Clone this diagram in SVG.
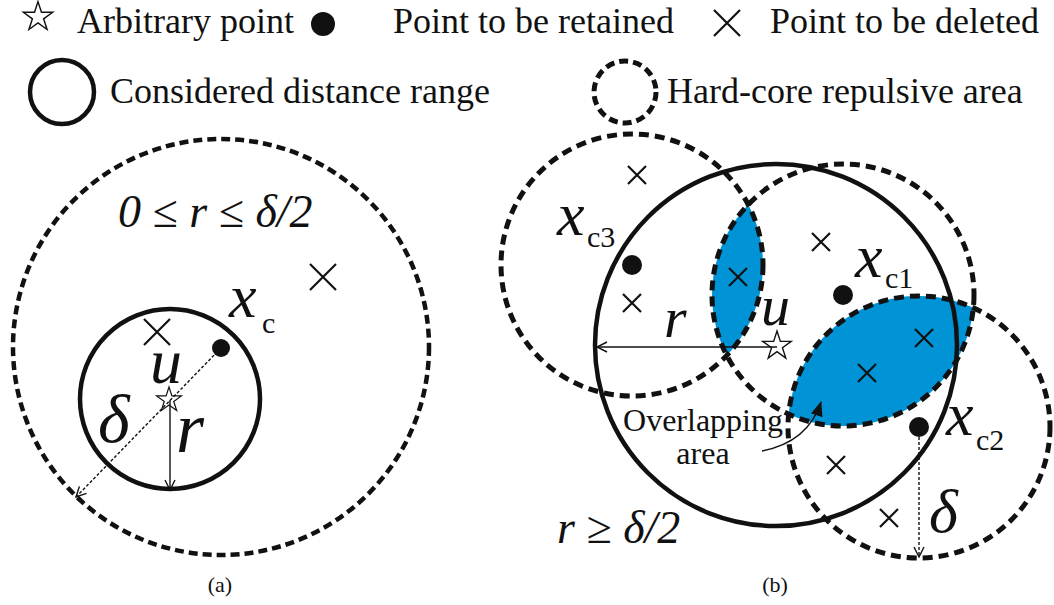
<svg xmlns="http://www.w3.org/2000/svg" width="1054" height="605" viewBox="0 0 1054 605">
<style>
text{font-family:"Liberation Serif","Times New Roman",serif;fill:#111}
.lg{font-size:36px}
.it{font-style:italic}
.sub{font-size:30px}
.solid{fill:none;stroke:#111;stroke-width:4.5}
.dash{fill:none;stroke:#111;stroke-width:5;stroke-dasharray:10 6}
.dashA{fill:none;stroke:#111;stroke-width:4.5;stroke-dasharray:9 5}
.lens{fill:#0093d6;stroke:none}
.xm{fill:none;stroke:#111;stroke-width:2.2}
.dot{fill:#111}
.star{fill:#fff;stroke:#111;stroke-width:1.3}
.thin{fill:none;stroke:#111;stroke-width:1.4}
.thindash{fill:none;stroke:#111;stroke-width:1.4;stroke-dasharray:3 2}
</style>
<defs>
<polygon id="star" class="star" points="0,-14 3.14,-4.33 13.32,-4.33 5.09,1.65 8.23,11.33 0,5.35 -8.23,11.33 -5.09,1.65 -13.32,-4.33 -3.14,-4.33"/>
<marker id="openArr" markerUnits="userSpaceOnUse" markerWidth="14" markerHeight="14" refX="11" refY="6" orient="auto">
<path d="M1,1 L11,6 L1,11" fill="none" stroke="#111" stroke-width="1.4"/>
</marker>
<marker id="fillArr" markerUnits="userSpaceOnUse" markerWidth="16" markerHeight="12" refX="14" refY="6" orient="auto">
<path d="M0,0 L15,6 L0,12 Z" fill="#111"/>
</marker>
</defs>

<g id="legend">
<g id="legend-star"><use href="#star" transform="translate(38,17) scale(1.1)"/><text class="lg" x="77" y="33">Arbitrary point</text></g>
<g id="legend-dot"><circle class="dot" cx="323" cy="24" r="12"/><text class="lg" x="393" y="33">Point to be retained</text></g>
<g id="legend-x"><path class="xm" d="M714,10 L740,36 M714,36 L740,10"/><text class="lg" x="770" y="33">Point to be deleted</text></g>
<g id="legend-range"><circle class="solid" cx="62" cy="92" r="32" stroke-width="5"/><text class="lg" x="110" y="103">Considered distance range</text></g>
<g id="legend-hardcore"><circle cx="625" cy="92" r="31" fill="none" stroke="#111" stroke-width="5" stroke-dasharray="9 5"/><text class="lg" x="667" y="103">Hard-core repulsive area</text></g>
</g>

<g id="panel-a">
<g id="a-hardcore"><circle class="dashA" cx="221" cy="347" r="208"/></g>
<g id="a-range"><circle class="solid" cx="170" cy="399" r="90"/></g>
<g id="a-xc"><circle class="dot" cx="221" cy="348" r="9"/>
<text class="it" x="229" y="317" font-size="62">x</text><text class="sub" x="262" y="333">c</text></g>
<g id="a-u"><use href="#star" transform="translate(169,400) scale(0.93)"/>
<text class="it" x="150" y="383" font-size="64">u</text></g>
<g id="a-deleted"><path class="xm" d="M310,264 L336,290 M310,290 L336,264"/><path class="xm" d="M144,319 L170,345 M144,345 L170,319"/></g>
<text class="it" x="118" y="227" font-size="46">0 ≤ r ≤ δ/2</text>
<text class="it" x="98" y="442" font-size="68">δ</text>
<text class="it" x="176" y="452" font-size="72">r</text>
<text x="220" y="592" font-size="22" text-anchor="middle">(a)</text>
</g>

<g id="panel-b">
<g id="b-overlap">
<path class="lens" d="M748.2,204.6 A131,131 0 0 1 726.8,355.4 A131,131 0 0 1 748.2,204.6 Z"/>
<path class="lens" d="M973.4,307.8 A131,131 0 0 1 788.6,414.2 A131,131 0 0 1 973.4,307.8 Z"/>
</g>
<g id="b-range"><circle class="solid" cx="776" cy="345" r="181"/></g>
<g id="b-xc3"><circle class="dash" cx="632" cy="265" r="131"/><circle class="dot" cx="632" cy="265" r="10"/>
<text class="it" x="557" y="235" font-size="62">x</text><text class="sub" x="587" y="247" font-size="29">c3</text></g>
<g id="b-xc1"><circle class="dash" cx="843" cy="295" r="131"/><circle class="dot" cx="843" cy="295" r="10"/>
<text class="it" x="855" y="277" font-size="62">x</text><text class="sub" x="885" y="288" font-size="29">c1</text></g>
<g id="b-xc2"><circle class="dash" cx="919" cy="427" r="131"/><circle class="dot" cx="919" cy="427" r="10"/>
<text class="it" x="946" y="435" font-size="62">x</text><text class="sub" x="976" y="450" font-size="29">c2</text></g>
<g id="b-u"><use href="#star" transform="translate(777,346) scale(1.07)"/>
<text class="it" x="761" y="325" font-size="58">u</text></g>
<g id="b-deleted">
<path class="xm" d="M628,166 L646,184 M628,184 L646,166"/>
<path class="xm" d="M623,294 L641,312 M623,312 L641,294"/>
<path class="xm" d="M729,268 L747,286 M729,286 L747,268"/>
<path class="xm" d="M812,233 L830,251 M812,251 L830,233"/>
<path class="xm" d="M915,329 L933,347 M915,347 L933,329"/>
<path class="xm" d="M858,364 L876,382 M858,382 L876,364"/>
<path class="xm" d="M827,456 L845,474 M827,474 L845,456"/>
<path class="xm" d="M880,509 L898,527 M880,527 L898,509"/>
</g>
<text class="it" x="664" y="337" font-size="58">r</text>
<text class="it" x="929" y="532" font-size="62">δ</text>
<text class="it" x="557" y="543" font-size="46">r ≥ δ/2</text>
<text x="703" y="431" font-size="32" text-anchor="middle">Overlapping</text>
<text x="703" y="464" font-size="32" text-anchor="middle">area</text>
<text x="775" y="592" font-size="22" text-anchor="middle">(b)</text>
</g>

<g id="connectors">
<line class="thindash" x1="221" y1="348" x2="76" y2="497" marker-end="url(#openArr)"/>
<line class="thin" x1="170" y1="400" x2="170" y2="490" marker-end="url(#openArr)"/>
<line class="thin" x1="777" y1="347" x2="597" y2="347" stroke-width="2" marker-end="url(#openArr)"/>
<line class="thindash" x1="919" y1="437" x2="919" y2="557" marker-end="url(#openArr)"/>
<path class="thin" d="M762,451 Q808,442 821,402" marker-end="url(#fillArr)"/>
</g>
</svg>
